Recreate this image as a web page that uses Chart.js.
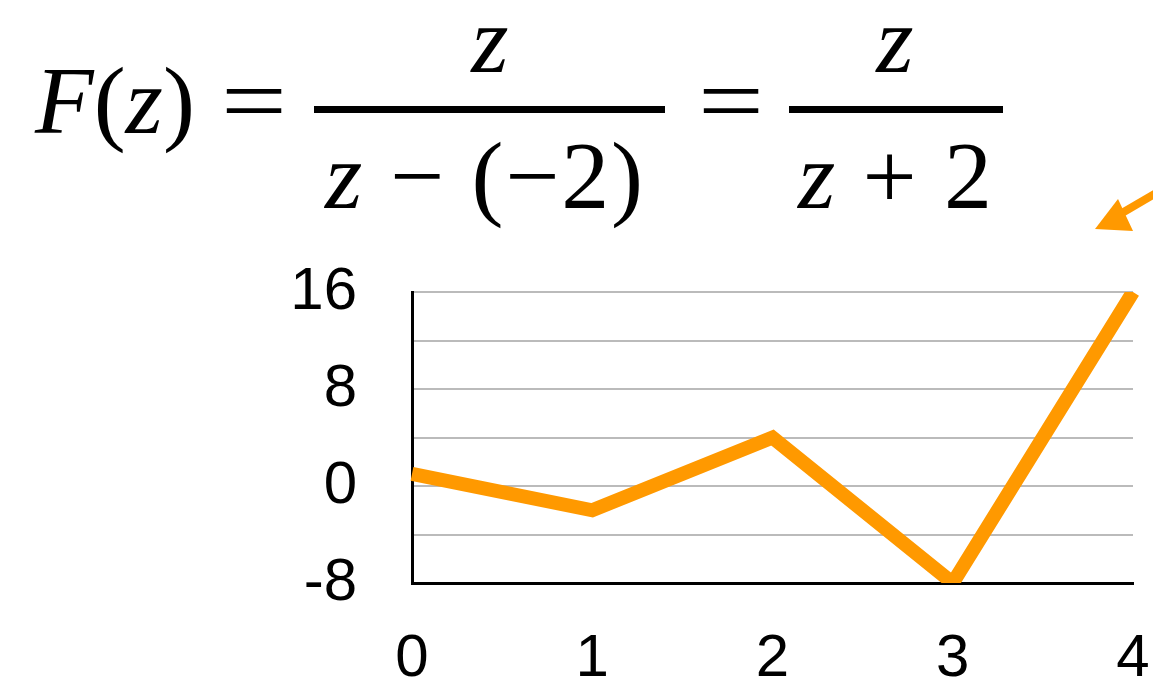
<!DOCTYPE html>
<html>
<head>
<meta charset="utf-8">
<script src="https://cdn.jsdelivr.net/npm/chart.js@4/dist/chart.umd.min.js"></script>
<style>
  html, body { margin: 0; padding: 0; background: #fff; }
  #wrap { position: relative; width: 1153px; height: 681px; overflow: hidden; }
  #chart { position: absolute; left: 0; top: 0; }
  #overlay { position: absolute; left: 0; top: 0; }
  #overlay text { font-family: "Liberation Serif", "Times New Roman", serif; font-size: 96px; fill: #000; }
</style>
</head>
<body>
<div id="wrap">
  <canvas id="chart" width="1153" height="681"></canvas>
  <svg id="overlay" width="1153" height="681">
    <!-- F(z) = z / (z - (-2)) = z / (z + 2) -->
    <text x="35" y="133"><tspan font-style="italic">F</tspan>(<tspan font-style="italic">z</tspan>)</text>
    <text x="221" y="133" textLength="66" lengthAdjust="spacingAndGlyphs">=</text>
    <text x="490" y="72" text-anchor="middle" font-style="italic">z</text>
    <rect x="314" y="106" width="351" height="7" fill="#000"></rect>
    <text x="325" y="208" textLength="318"><tspan font-style="italic">z</tspan> − (−2)</text>
    <text x="698" y="133" textLength="66" lengthAdjust="spacingAndGlyphs">=</text>
    <text x="895" y="72" text-anchor="middle" font-style="italic">z</text>
    <rect x="789" y="106" width="214" height="7" fill="#000"></rect>
    <text x="798" y="208" textLength="194"><tspan font-style="italic">z</tspan> + 2</text>
    <!-- arrow pointing at the last point -->
    <line x1="1122" y1="213" x2="1165" y2="188" stroke="#FF9900" stroke-width="8"></line>
    <polygon points="1095,229 1118,199 1133,231" fill="#FF9900"></polygon>
  </svg>
</div>
<script>
const xLabels = ['0', '1', '2', '3', '4'];
const values = [1, -2, 4, -8, 16];
const yMin = -8;
const yMax = 16;
const yStep = 4;

const ctx = document.getElementById('chart').getContext('2d');

new Chart(ctx, {
    type: 'line',
    data: {
        labels: xLabels,
        datasets: [
            {
                data: values,
                borderColor: '#FF9900',
                borderWidth: 14,
                borderJoinStyle: 'miter',
                borderCapStyle: 'butt',
                pointRadius: 0,
                tension: 0,
                fill: false
            }
        ]
    },
    options: {
        responsive: false,
        animation: false,
        layout: {
            padding: { top: 292, right: 20, left: 0, bottom: 0 }
        },
        plugins: {
            legend: { display: false },
            tooltip: { enabled: false }
        },
        scales: {
            x: {
                offset: false,
                grid: { display: false, drawTicks: false },
                border: { display: true, color: '#000', width: 3 },
                ticks: {
                    color: '#000',
                    padding: 40,
                    maxRotation: 0,
                    autoSkip: false,
                    font: { family: 'Liberation Sans', size: 60 }
                },
                afterFit: (scale) => {
                    scale.height = 98
                    scale.paddingLeft = 0
                    scale.paddingRight = 0
                }
            },
            y: {
                min: yMin,
                max: yMax,
                grid: { color: '#bbb', lineWidth: 2, drawTicks: false },
                border: { display: true, color: '#000', width: 3 },
                ticks: {
                    stepSize: yStep,
                    autoSkip: false,
                    color: '#000',
                    padding: 55,
                    font: { family: 'Liberation Sans', size: 60 },
                    callback: (value) => value % 8 === 0 ? String(value) : ''
                },
                afterFit: (scale) => {
                    scale.width = 412
                    scale.paddingTop = 0
                    scale.paddingBottom = 0
                }
            }
        }
    }
});
</script>
</body>
</html>
